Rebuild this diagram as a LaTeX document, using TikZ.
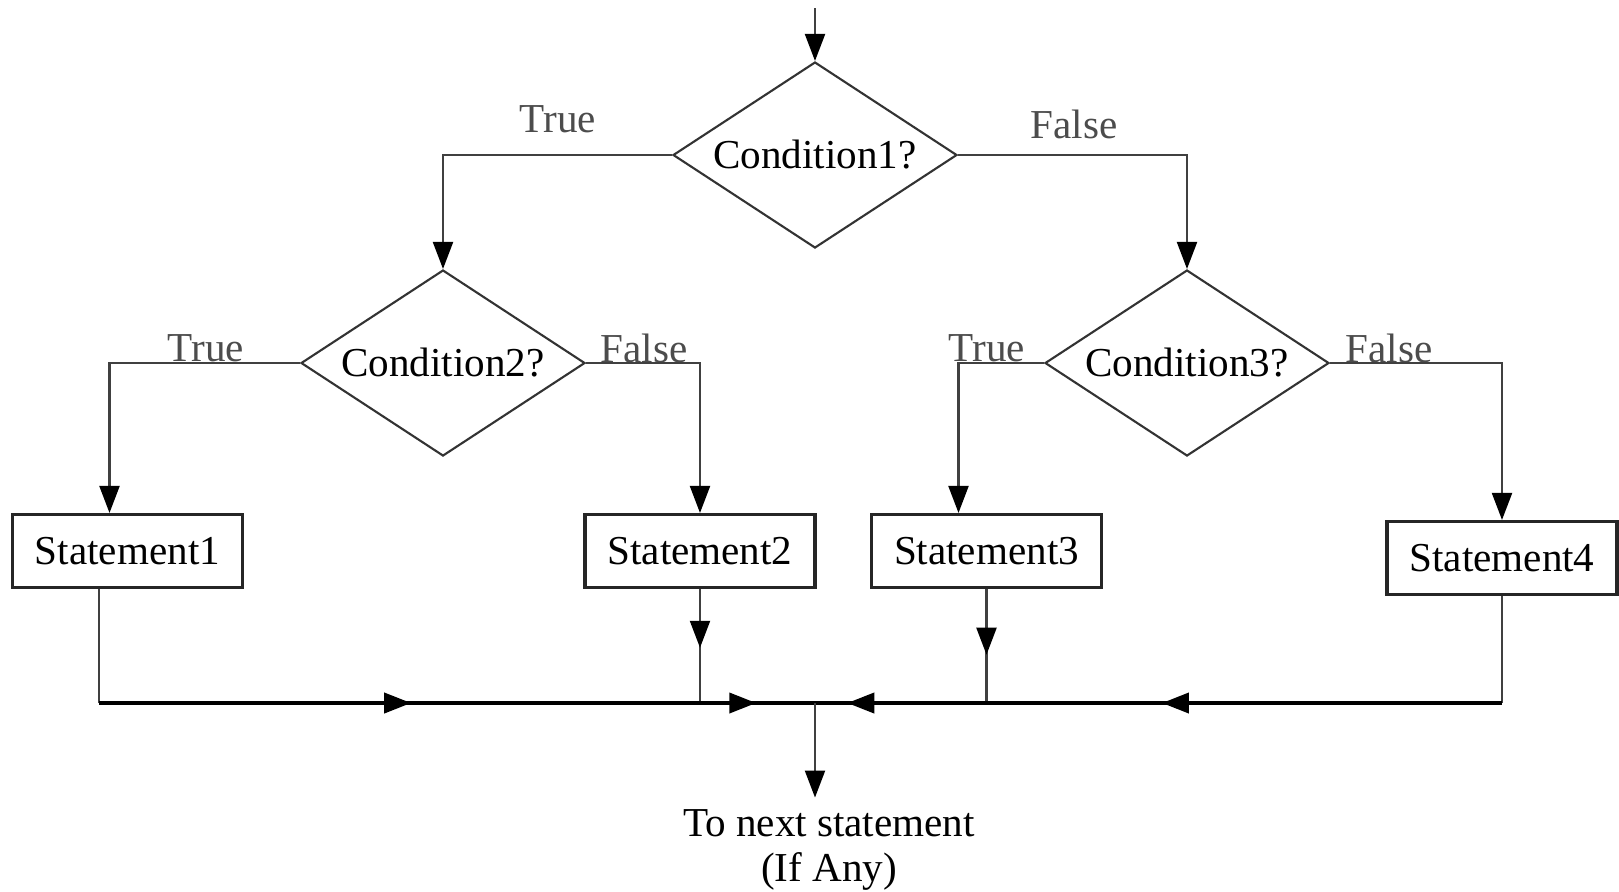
\documentclass[tikz,border=0pt]{standalone}
\usepackage{fontspec}
\setmainfont{Liberation Serif}
\usetikzlibrary{shapes.geometric, arrows.meta, decorations.markings}

\begin{document}
\begin{tikzpicture}[every node/.style={font=\fontsize{11.7}{14}\selectfont}, cond/.style={diamond, draw=black!80, line width=0.6pt, aspect=1.53, minimum width=2.84cm, minimum height=1.86cm, inner sep=0pt}, stmt/.style={rectangle, draw=black!85, line width=0.9pt, minimum width=2.3cm, minimum height=0.73cm}, lbl/.style={text=black!70}, conn/.style={draw=black!75, line width=0.6pt}, arr/.style={conn, -{Triangle[length=2.7mm, width=2mm, color=black]}}, bus/.style={draw=black, line width=1.1pt}, midarrow/.style={postaction={decorate}, decoration={markings, mark=at position #1 with {\arrow{Triangle[length=2.7mm, width=2mm, color=black]}}}}, twoarrows/.style n args={2}{postaction={decorate}, decoration={markings, mark=at position #1 with {\arrow{Triangle[length=2.7mm, width=2mm]}}, mark=at position #2 with {\arrow{Triangle[length=2.7mm, width=2mm]}}}}]

		\useasboundingbox (0,0) rectangle (16.19,-8.91);

		\node[cond] (c1) at (8.15,-1.55) {Condition1?};
		\node[cond] (c2) at (4.43,-3.63) {Condition2?};
		\node[cond] (c3) at (11.87,-3.63) {Condition3?};

		\node[stmt] (s1) at (1.275,-5.51) {Statement1};
		\node[stmt] (s2) at (7.00,-5.51) {Statement2};
		\node[stmt] (s3) at (9.865,-5.51) {Statement3};
		\node[stmt] (s4) at (15.02,-5.58) {Statement4};

		\node[align=center, font=\fontsize{11.7}{12.6}\selectfont] (next) at (8.29,-8.50) {To next statement\\(If Any)};

		\node[lbl] (t1) at (5.58,-1.19) {True};
		\node[lbl] (f1) at (10.74,-1.24) {False};
		\node[lbl] (t2) at (2.06,-3.48) {True};
		\node[lbl] (f2) at (6.44,-3.48) {False};
		\node[lbl] (t3) at (9.87,-3.48) {True};
		\node[lbl] (f3) at (13.89,-3.48) {False};

		\coordinate (start) at (8.15,-0.08);
		\coordinate (join) at (8.15,-7.03);

		\draw[arr] (start) -- (c1.north);

		\draw[arr] (c1.west) -| (c2.north);
		\draw[arr] (c1.east) -| (c3.north);

		\draw[arr] (c2.west) -| ([xshift=-1.8mm]s1.north);
		\draw[arr] (c2.east) -| (s2.north);
		\draw[arr] (c3.west) -| ([xshift=-2.8mm]s3.north);
		\draw[arr] (c3.east) -| (s4.north);

		\draw[conn] ([xshift=-2.85mm]s1.south) coordinate (o1) -- (o1 |- join);
		\draw[conn, midarrow=0.515] (s2.south) -- (s2.south |- join);
		\draw[conn, midarrow=0.576] (s3.south) -- (s3.south |- join);
		\draw[conn] (s4.south) -- (s4.south |- join);

		\draw[bus, twoarrows={0.436}{0.918}] (o1 |- join) -- (join);
		\draw[bus, twoarrows={0.495}{0.953}] (s4.south |- join) -- (join);

		\draw[arr] (join) -- (join |- next.north);

	\end{tikzpicture}
\end{document}
